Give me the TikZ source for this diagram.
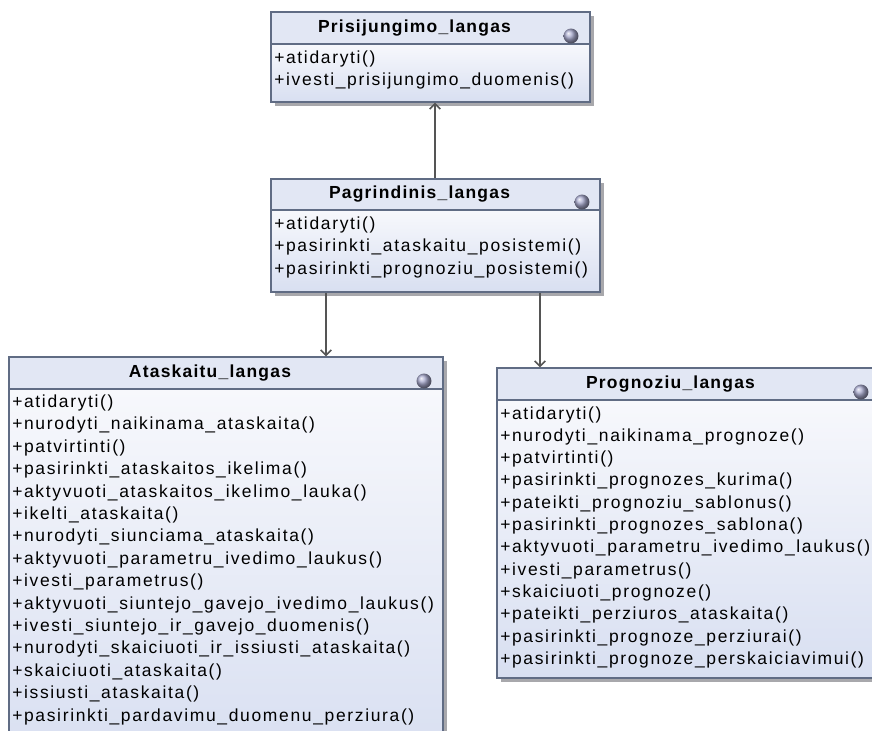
\documentclass[tikz,border=0pt]{standalone}
\usepackage{fontspec}
\setmainfont{Liberation Sans}[LetterSpace=9.5,BoldFeatures={LetterSpace=7}]
\usetikzlibrary{arrows.meta,fit}

\definecolor{boxline}{RGB}{96,108,132}
\definecolor{headfill}{RGB}{226,231,244}
\definecolor{bodytop}{RGB}{247,248,252}
\definecolor{bodybot}{RGB}{216,223,241}
\definecolor{shadowgray}{RGB}{168,168,172}
\definecolor{linegray}{RGB}{85,85,85}
\definecolor{ballc}{RGB}{168,170,206}

\tikzset{
  boxframe/.style={draw=boxline, line width=1.1pt, inner sep=0pt},
  opline/.style={anchor=west, inner sep=0pt, font=\fontsize{13.1}{15}\selectfont, text=black},
  classtitle/.style={inner sep=0pt, font=\bfseries\fontsize{13.1}{15}\selectfont, text=black},
  assoc/.style={draw=linegray, line width=1.1pt, -{Straight Barb[length=4pt,width=8pt]}}
}

% #1 name, #2 left, #3 top, #4 right, #5 bottom, #6 divider, #7 title, #8 icon x
\newcommand\umlclassbox[8]{%
  \fill[shadowgray] (#2+4,#3+4) rectangle (#4+4,#5+4);
  \shade[top color=bodytop, bottom color=bodybot] (#2,#6) rectangle (#4,#5);
  \fill[headfill] (#2,#3) rectangle (#4,#6);
  \coordinate (#1-nw) at (#2,#3);
  \coordinate (#1-se) at (#4,#5);
  \node[fit=(#1-nw)(#1-se), boxframe] (#1) {};
  \draw[draw=boxline, line width=1.1pt] (#2,#6) -- (#4,#6);
  \node[classtitle] (#1-title) at ({(#2+#4)/2-16},{(#3+#6)/2}) {#7};
  \shade[ball color=ballc] (#8,#6-8) circle (5.6pt);
}

\begin{document}
\begin{tikzpicture}[x=0.75pt,y=-0.75pt]
\useasboundingbox (0,0) rectangle (872,731);
\clip (0,0) rectangle (872,731);
\fill[white] (0,0) rectangle (872,731);

% login window
\umlclassbox{login}{271}{12}{590}{102}{44}{Prisijungimo\_langas}{571}
\foreach \t [count=\i from 0] in {{+atidaryti()},{+ivesti\_prisijungimo\_duomenis()}}
  \node[opline] (login-op\i) at (274,{58.5+\i*22.4}) {\t};

% main window
\umlclassbox{main}{271}{179}{600}{292}{210}{Pagrindinis\_langas}{582}
\foreach \t [count=\i from 0] in {{+atidaryti()},{+pasirinkti\_ataskaitu\_posistemi()},{+pasirinkti\_prognoziu\_posistemi()}}
  \node[opline] (main-op\i) at (274,{225+\i*22.4}) {\t};

% reports window
\umlclassbox{reports}{9}{357}{443}{760}{389}{Ataskaitu\_langas}{424}
\foreach \t [count=\i from 0] in {{+atidaryti()},{+nurodyti\_naikinama\_ataskaita()},{+patvirtinti()},
  {+pasirinkti\_ataskaitos\_ikelima()},{+aktyvuoti\_ataskaitos\_ikelimo\_lauka()},{+ikelti\_ataskaita()},
  {+nurodyti\_siunciama\_ataskaita()},{+aktyvuoti\_parametru\_ivedimo\_laukus()},{+ivesti\_parametrus()},
  {+aktyvuoti\_siuntejo\_gavejo\_ivedimo\_laukus()},{+ivesti\_siuntejo\_ir\_gavejo\_duomenis()},
  {+nurodyti\_skaiciuoti\_ir\_issiusti\_ataskaita()},{+skaiciuoti\_ataskaita()},{+issiusti\_ataskaita()},
  {+pasirinkti\_pardavimu\_duomenu\_perziura()}}
  \node[opline] (reports-op\i) at (12,{403+\i*22.4}) {\t};

% forecasts window
\umlclassbox{forecasts}{497}{368}{876}{678}{400}{Prognoziu\_langas}{861}
\foreach \t [count=\i from 0] in {{+atidaryti()},{+nurodyti\_naikinama\_prognoze()},{+patvirtinti()},
  {+pasirinkti\_prognozes\_kurima()},{+pateikti\_prognoziu\_sablonus()},{+pasirinkti\_prognozes\_sablona()},
  {+aktyvuoti\_parametru\_ivedimo\_laukus()},{+ivesti\_parametrus()},{+skaiciuoti\_prognoze()},
  {+pateikti\_perziuros\_ataskaita()},{+pasirinkti\_prognoze\_perziurai()},{+pasirinkti\_prognoze\_perskaiciavimui()}}
  \node[opline] (forecasts-op\i) at (500,{414.5+\i*22.3}) {\t};

% navigation associations
\draw[assoc] (main.north -| 435,0) -- (login.south -| 435,0);
\draw[assoc] (main.south -| 326,0) -- (reports.north -| 326,0);
\draw[assoc] (main.south -| 540,0) -- (forecasts.north -| 540,0);
\end{tikzpicture}
\end{document}
